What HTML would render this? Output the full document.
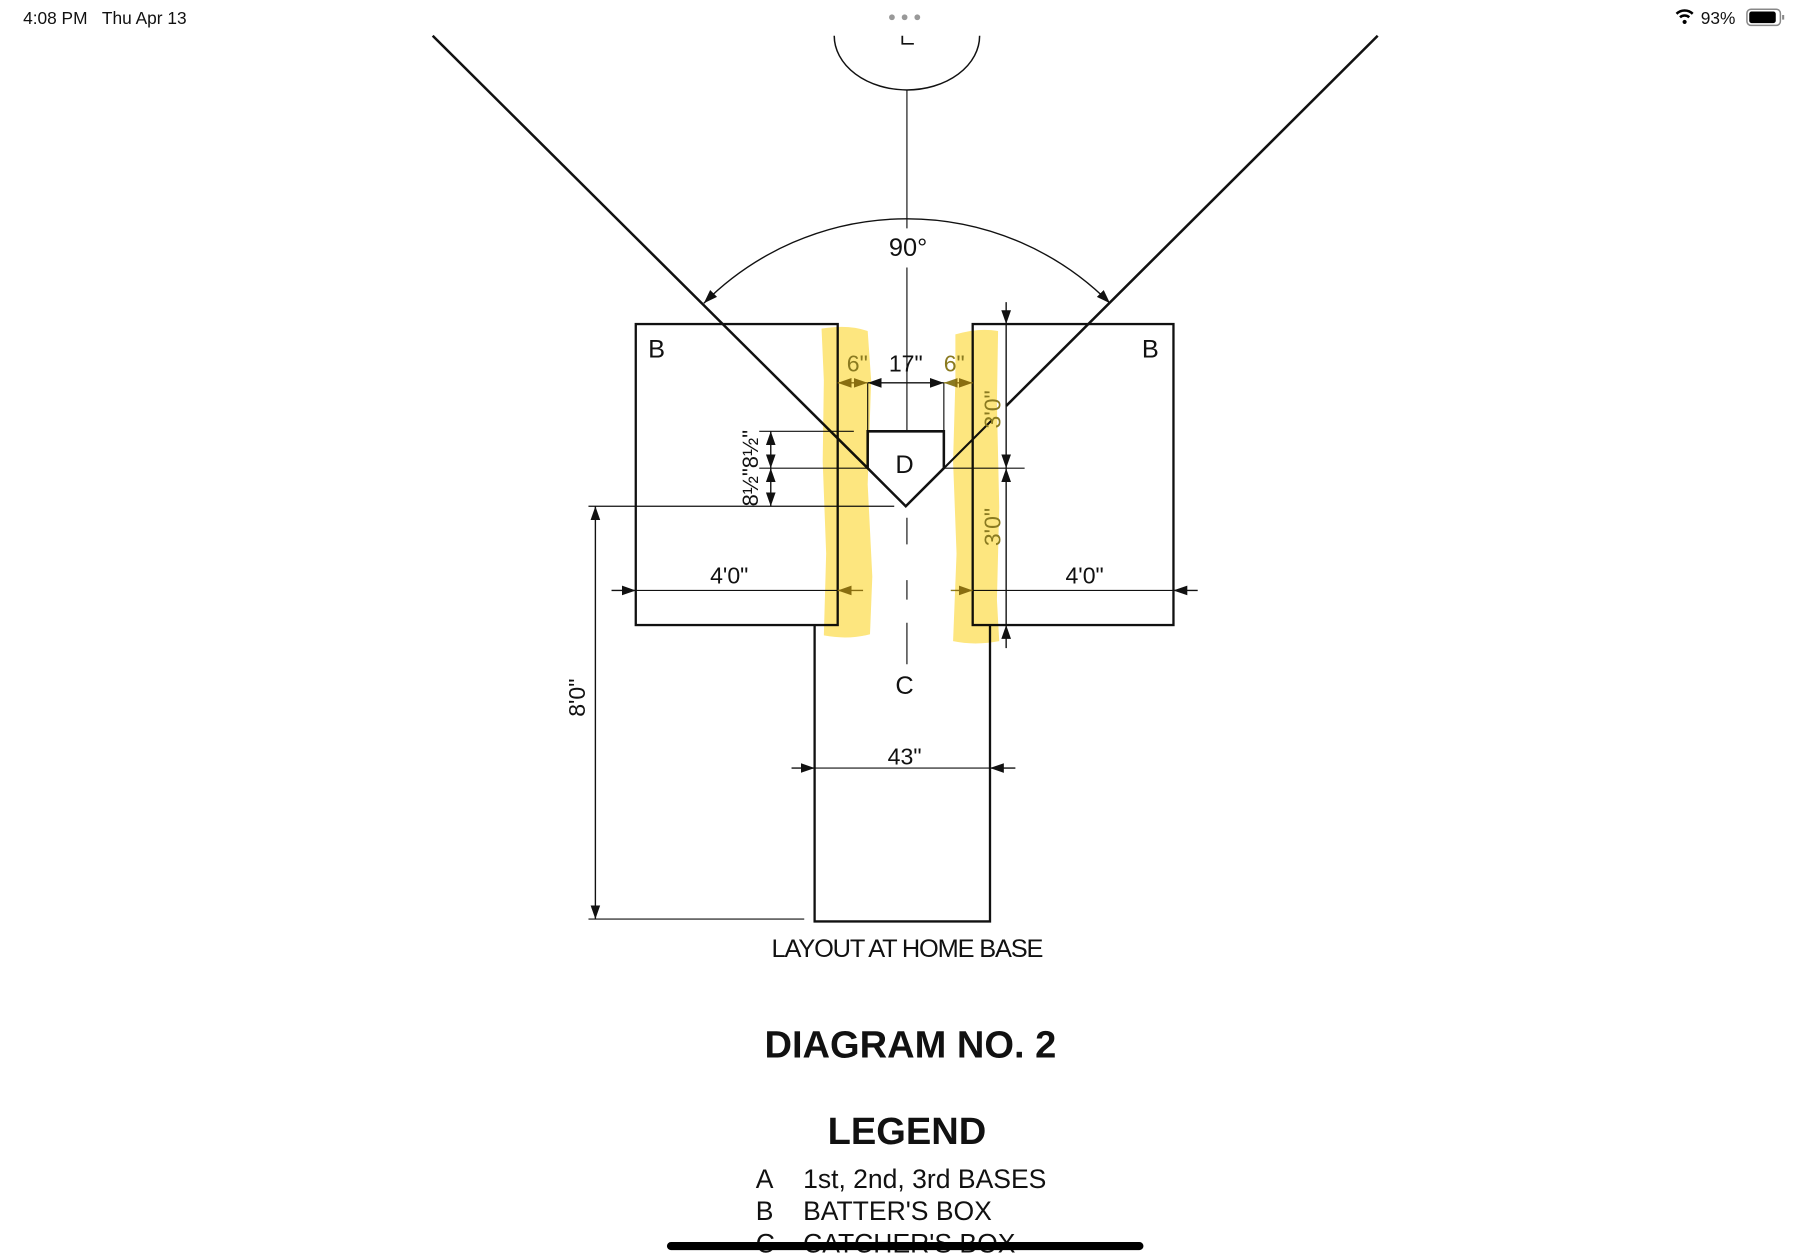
<!DOCTYPE html>
<html><head><meta charset="utf-8"><style>
html,body{margin:0;padding:0;background:#fff;}
svg{display:block;}
text{font-family:"Liberation Sans",sans-serif;}
</style></head><body>
<svg width="1800" height="1257" viewBox="0 0 1560 1090" preserveAspectRatio="none" xmlns="http://www.w3.org/2000/svg">
<defs>
<marker id="a" viewBox="0 0 10 10" refX="10" refY="5" markerWidth="12" markerHeight="12" orient="auto-start-reverse" markerUnits="userSpaceOnUse"><path d="M0,1.5 L10,5 L0,8.5 z" fill="#111"/></marker>
<marker id="ao" viewBox="0 0 10 10" refX="10" refY="5" markerWidth="12" markerHeight="12" orient="auto-start-reverse" markerUnits="userSpaceOnUse"><path d="M0,1.5 L10,5 L0,8.5 z" fill="#8a7a20"/></marker>
</defs>
<rect width="1560" height="1090" fill="#fff"/>
<text x="20" y="21" font-size="15" fill="#111">4:08 PM&#160;&#160;&#160;Thu Apr 13</text>
<circle cx="773" cy="15" r="2.5" fill="#999"/><circle cx="784" cy="15" r="2.5" fill="#999"/><circle cx="795" cy="15" r="2.5" fill="#999"/>
<path d="M1453,12 a10,10 0 0 1 14,0" stroke="#000" stroke-width="2.2" fill="none"/>
<path d="M1456,15 a6,6 0 0 1 8,0" stroke="#000" stroke-width="2.2" fill="none"/>
<circle cx="1460" cy="19" r="1.8" fill="#000"/>
<text x="1474" y="21" font-size="15" fill="#111">93%</text>
<rect x="1514" y="8" width="29" height="14" rx="3.5" fill="none" stroke="#888" stroke-width="1.3"/>
<rect x="1516" y="10" width="23" height="10" rx="2" fill="#000"/>
<rect x="1544.5" y="13" width="1.8" height="4" fill="#888"/>

<g stroke="#111" fill="none">
<path d="M723,31 A63,47 0 0 0 849,31" stroke-width="1.3"/>
<path d="M782,31 V38 H792" stroke-width="1.5"/>
<line x1="786" y1="78" x2="786" y2="198" stroke-width="1"/>
<line x1="786" y1="232" x2="786" y2="374" stroke-width="1"/>
<path d="M786,449 V472 M786,503 V520 M786,540 V576" stroke-width="1"/>
<line x1="375" y1="31" x2="752" y2="406" stroke-width="2.2"/>
<line x1="1194" y1="31" x2="872" y2="352" stroke-width="2.2"/>
<line x1="818" y1="406" x2="860" y2="364" stroke-width="1.8"/>
<path d="M752,374 H818 V406 L785,439 L752,406 Z" stroke-width="2.2"/>
<rect x="551" y="281" width="175" height="261" stroke-width="2"/>
<rect x="843" y="281" width="174" height="261" stroke-width="2"/>
<path d="M706,542 V799 H858 V542" stroke-width="2"/>
<path d="M610,263 A248,248 0 0 1 962,263" stroke-width="1.2" marker-start="url(#a)" marker-end="url(#a)"/>
<line x1="752" y1="332" x2="752" y2="374" stroke-width="1"/>
<line x1="818" y1="332" x2="818" y2="374" stroke-width="1"/>
<line x1="752" y1="332" x2="818" y2="332" stroke-width="1.2" marker-start="url(#a)" marker-end="url(#a)"/>
<line x1="726" y1="332" x2="752" y2="332" stroke="#8a7a20" stroke-width="1.2" marker-start="url(#ao)" marker-end="url(#ao)"/>
<line x1="818" y1="332" x2="843" y2="332" stroke="#8a7a20" stroke-width="1.2" marker-start="url(#ao)" marker-end="url(#ao)"/>
<line x1="658" y1="374" x2="740" y2="374" stroke-width="1"/>
<line x1="658" y1="406" x2="752" y2="406" stroke-width="1"/>
<line x1="510" y1="439" x2="775" y2="439" stroke-width="1"/>
<line x1="668" y1="374" x2="668" y2="406" stroke-width="1.2" marker-start="url(#a)" marker-end="url(#a)"/>
<line x1="668" y1="406" x2="668" y2="439" stroke-width="1.2" marker-start="url(#a)" marker-end="url(#a)"/>
<line x1="872" y1="262" x2="872" y2="281" stroke-width="1.2" marker-end="url(#a)"/>
<line x1="872" y1="281" x2="872" y2="406" stroke-width="1.2" marker-end="url(#a)"/>
<line x1="872" y1="406" x2="872" y2="542" stroke-width="1.2" marker-start="url(#a)"/>
<line x1="872" y1="562" x2="872" y2="542" stroke-width="1.2" marker-end="url(#a)"/>
<line x1="818" y1="406" x2="888" y2="406" stroke-width="1"/>
<line x1="530" y1="512" x2="551" y2="512" stroke-width="1.2" marker-end="url(#a)"/>
<line x1="551" y1="512" x2="726" y2="512" stroke-width="1"/>
<line x1="748" y1="512" x2="726" y2="512" stroke="#8a7a20" stroke-width="1.2" marker-end="url(#ao)"/>
<line x1="824" y1="512" x2="843" y2="512" stroke="#8a7a20" stroke-width="1.2" marker-end="url(#ao)"/>
<line x1="843" y1="512" x2="1017" y2="512" stroke-width="1"/>
<line x1="1038" y1="512" x2="1017" y2="512" stroke-width="1.2" marker-end="url(#a)"/>
<line x1="516" y1="439" x2="516" y2="797" stroke-width="1.2" marker-start="url(#a)" marker-end="url(#a)"/>
<line x1="510" y1="797" x2="697" y2="797" stroke-width="1"/>
<line x1="686" y1="666" x2="706" y2="666" stroke-width="1.2" marker-end="url(#a)"/>
<line x1="706" y1="666" x2="858" y2="666" stroke-width="1"/>
<line x1="880" y1="666" x2="858" y2="666" stroke-width="1.2" marker-end="url(#a)"/>
</g>

<g fill="#fcd93a" opacity="0.65" style="mix-blend-mode:multiply">
<path d="M712,285 Q735,281 752,287 L755,330 L752,420 L756,500 L754,550 Q735,555 714,551 L716,480 L713,400 L714,330 Z"/>
<path d="M828,290 Q848,284 865,287 L864,350 L866,440 L864,520 L866,556 Q845,560 826,556 L829,480 L826,400 L828,330 Z"/>
</g>

<g fill="#111" font-size="22" text-anchor="middle">
<text x="787" y="222">90°</text>
<text x="569" y="310">B</text>
<text x="997" y="310">B</text>
<text x="785" y="322" font-size="20">17"</text>
<text x="743" y="322" font-size="20" fill="#8a7a20">6"</text>
<text x="827" y="322" font-size="20" fill="#8a7a20">6"</text>
<text x="784" y="410">D</text>
<text x="784" y="602">C</text>
<text x="632" y="506" font-size="20">4'0"</text>
<text x="940" y="506" font-size="20">4'0"</text>
<text x="784" y="663" font-size="20">43"</text>
<text transform="translate(507,605) rotate(-90)" font-size="20">8'0"</text>
<text transform="translate(867,355) rotate(-90)" font-size="20" fill="#8a7a20">3'0"</text>
<text transform="translate(867,457) rotate(-90)" font-size="20" fill="#8a7a20">3'0"</text>
<text transform="translate(657,406) rotate(-90)" font-size="19">8½"8½"</text>
<text x="786" y="830" font-size="22" letter-spacing="-1">LAYOUT AT HOME BASE</text>
<text x="789" y="917" font-size="33" font-weight="bold">DIAGRAM NO. 2</text>
<text x="786" y="992" font-size="33" font-weight="bold">LEGEND</text>
</g>
<g fill="#111" font-size="23">
<text x="655" y="1030">A</text><text x="696" y="1030">1st, 2nd, 3rd BASES</text>
<text x="655" y="1058">B</text><text x="696" y="1058">BATTER'S BOX</text>
<text x="655" y="1086">C</text><text x="696" y="1086">CATCHER'S BOX</text>
</g>
<rect x="578" y="1077" width="413" height="7" rx="3.5" fill="#000"/>
</svg>
</body></html>
